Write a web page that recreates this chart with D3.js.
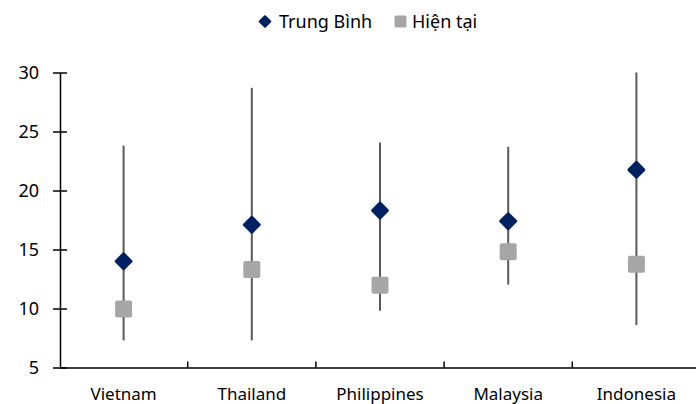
<!DOCTYPE html>
<html>
<head>
<meta charset="utf-8">
<script src="https://cdn.jsdelivr.net/npm/d3@7"></script>
<style>
  html, body { margin: 0; padding: 0; background: #fff; }
  svg { display: block; }
  text { font-family: "Noto Sans", sans-serif; fill: #000; }
</style>
</head>
<body>
<svg id="chart" width="696" height="404"></svg>
<script>
const categories = ["Vietnam", "Thailand", "Philippines", "Malaysia", "Indonesia"];
const avgValues = [14.0, 17.1, 18.3, 17.4, 21.75];   // Trung Bình
const curValues = [9.95, 13.3, 11.97, 14.8, 13.75];  // Hiện tại
const highValues = [23.8, 28.7, 24.07, 23.7, 30.0];
const lowValues = [7.3, 7.3, 9.8, 12.03, 8.6];
const yTicks = [5, 10, 15, 20, 25, 30];
const seriesNames = ["Trung Bình", "Hiện tại"];

const svg = d3.select("#chart");
const x = d3.scaleBand().domain(categories).range([59.5, 700.5]).padding(0);
const y = d3.scaleLinear().domain([5, 30]).range([367.5, 72.5]);

const data = categories.map((c, i) => ({
  cat: c, avg: avgValues[i], cur: curValues[i], hi: highValues[i], lo: lowValues[i]
}));

// whiskers
svg.append("g").selectAll("line").data(data).join("line")
  .attr("x1", d => x(d.cat) + x.bandwidth() / 2)
  .attr("x2", d => x(d.cat) + x.bandwidth() / 2)
  .attr("y1", d => y(d.hi))
  .attr("y2", d => y(d.lo))
  .attr("stroke", "#595959")
  .attr("stroke-width", 2);

// y axis
const yAxis = svg.append("g").attr("transform", "translate(60,0)")
  .call(d3.axisLeft(y).tickValues(yTicks).tickSize(0).tickPadding(0).tickFormat(d3.format("d")));
yAxis.select(".domain").attr("stroke", "#000").attr("stroke-width", 1.5);
yAxis.selectAll(".tick line").remove();
yAxis.selectAll(".tick").append("line")
  .attr("x1", -7).attr("x2", 7).attr("stroke", "#000").attr("stroke-width", 1.5);
yAxis.selectAll(".tick text")
  .attr("x", -21).attr("dy", "0.35em")
  .style("font-family", "Noto Sans, sans-serif").style("font-size", "18px").attr("fill", "#000");

// x axis
const xAxis = svg.append("g").attr("transform", `translate(0,${y(5)})`)
  .call(d3.axisBottom(x).tickSize(0).tickPadding(0));
xAxis.select(".domain").attr("stroke", "#000").attr("stroke-width", 1.5);
xAxis.selectAll(".tick text")
  .attr("y", 0).attr("dy", "32.5px")
  .style("font-family", "Noto Sans, sans-serif").style("font-size", "17px").attr("fill", "#000");
// category boundary ticks (pointing up)
svg.append("g").selectAll("line").data(categories.slice(1)).join("line")
  .attr("x1", d => x(d)).attr("x2", d => x(d))
  .attr("y1", y(5)).attr("y2", y(5) - 6)
  .attr("stroke", "#000").attr("stroke-width", 1.5);

// current squares
const sq = 17;
svg.append("g").selectAll("rect").data(data).join("rect")
  .attr("x", d => x(d.cat) + x.bandwidth() / 2 - sq / 2)
  .attr("y", d => y(d.cur) - sq / 2)
  .attr("width", sq).attr("height", sq)
  .attr("rx", 2)
  .attr("fill", "#a6a6a6");

// average diamonds
const dm = 13.5;
svg.append("g").selectAll("rect").data(data).join("rect")
  .attr("x", -dm / 2).attr("y", -dm / 2)
  .attr("width", dm).attr("height", dm)
  .attr("rx", 1.5)
  .attr("transform", d => `translate(${x(d.cat) + x.bandwidth() / 2},${y(d.avg)}) rotate(45)`)
  .attr("fill", "#002060");

// legend
const lg = svg.append("g");
const ld = 9.5;
lg.append("rect").attr("x", -ld / 2).attr("y", -ld / 2).attr("width", ld).attr("height", ld)
  .attr("rx", 1).attr("transform", "translate(265,21.5) rotate(45)").attr("fill", "#002060");
lg.append("text").attr("x", 279).attr("y", 21.5).attr("dy", "0.35em")
  .style("font-size", "18px").text(seriesNames[0]);
lg.append("rect").attr("x", 394.5).attr("y", 15.5).attr("width", 12).attr("height", 12)
  .attr("rx", 1.5).attr("fill", "#a6a6a6");
lg.append("text").attr("x", 412).attr("y", 21.5).attr("dy", "0.35em")
  .style("font-size", "18px").text(seriesNames[1]);
</script>
</body>
</html>
